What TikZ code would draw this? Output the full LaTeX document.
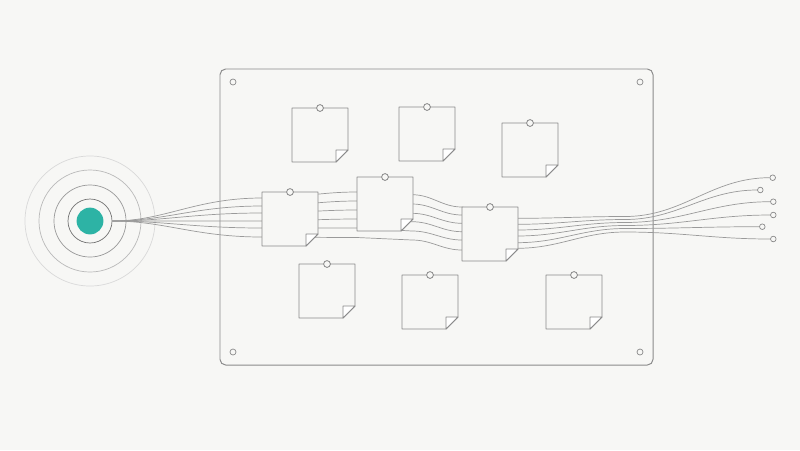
\documentclass[tikz,border=0pt]{standalone}
\usepackage{tikz}
\usetikzlibrary{calc}
\usepackage{xcolor}
\definecolor{paper}{HTML}{F7F7F5}
\definecolor{ink}{HTML}{8A8A8A}
\definecolor{wirec}{HTML}{9A9A9A}
\definecolor{signal}{HTML}{2DB3A5}
\tikzstyle{board}=[draw=ink, line width=0.7pt, rounded corners=4pt]
\tikzstyle{note}=[rectangle, minimum width=1.4cm, minimum height=1.35cm, inner sep=0pt, outer sep=0pt, anchor=north west]
\tikzstyle{notebody}=[draw=ink, fill=paper, line width=0.6pt, line join=round]
\tikzstyle{flap}=[draw=ink, fill=white, line width=0.6pt, line join=round]
\tikzstyle{tack}=[circle, draw=ink, fill=paper, line width=0.6pt, minimum size=0.17cm, inner sep=0pt]
\tikzstyle{screw}=[circle, draw=ink, line width=0.5pt, minimum size=0.15cm, inner sep=0pt]
\tikzstyle{wire}=[draw=wirec, line width=0.5pt]
\tikzstyle{plug}=[circle, draw=ink, fill=paper, line width=0.5pt, minimum size=0.14cm, inner sep=0pt]
\tikzstyle{core}=[circle, fill=signal, minimum size=0.67cm, inner sep=0pt]
\tikzstyle{ring}=[circle, line width=0.5pt, inner sep=0pt]

\begin{document}
\begin{tikzpicture}[x=0.025cm, y=-0.025cm]
            \fill[paper] (0,0) rectangle (800,450);
            \useasboundingbox (0,0) rectangle (800,450);
            % signal source
            \node (core)[core] at (90,221) {};
            \node (ring1)[ring, draw=black!55, minimum size=1.1cm] at (core) {};
            \node (ring2)[ring, draw=black!40, minimum size=1.8cm] at (core) {};
            \node (ring3)[ring, draw=black!27, minimum size=2.55cm] at (core) {};
            \node (ring4)[ring, draw=black!15, minimum size=3.25cm] at (core) {};
            % board
            \draw[board] (220,69) rectangle (653,365);
            \foreach \x/\y in {233/82, 640/82, 233/352, 640/352}
                \node[screw] at (\x,\y) {};
            % plugs
            \foreach \k/\x/\y in {1/772.7/177.7, 2/760.3/190, 3/773.3/201.7, 4/773.3/215, 5/762.3/226.7, 6/773.3/239}
                \node (end\k)[plug] at (\x,\y) {};
            % wires
            \foreach \k/\ya/\yb/\yc/\yd/\ye/\yf in {1/198/192/194.7/207/218.3/216.5,
                                                     2/206/201/204/215/224.3/219.5,
                                                     3/213/210/213.3/223.3/230/222.5,
                                                     4/221/219/221.7/231.7/236/225.5,
                                                     5/228/228/231/240/242.7/228.5,
                                                     6/237/237.5/240/250/248.3/232}
                \draw[wire] (ring1.east) .. controls (165,221) and (195,\ya) .. (262,\ya)
                    to[out=0,in=180] (357,\yb) -- (412,\yc)
                    to[out=0,in=180] (462,\yd) -- (517,\ye)
                    to[out=0,in=180] (625,\yf)
                    to[out=0,in=180] (end\k.west);
            % notes
            \foreach \n/\x/\y in {A/292/108, B/399/107, C/502/123, D/262/192, E/357/177,
                                  F/462/207, G/299/264, H/402/275, I/546/275} {
                \node (\n)[note] at (\x,\y) {};
                \filldraw[notebody] (\n.north west) -- (\n.north east)
                    -- ($(\n.south east)+(0,-12)$) -- ($(\n.south east)+(-12,0)$)
                    -- (\n.south west) -- cycle;
                \filldraw[flap] ($(\n.south east)+(-12,0)$) -- ($(\n.south east)+(-12,-12)$)
                    -- ($(\n.south east)+(0,-12)$) -- cycle;
                \node[tack] at (\n.north) {};
            }
        \end{tikzpicture}
\end{document}
